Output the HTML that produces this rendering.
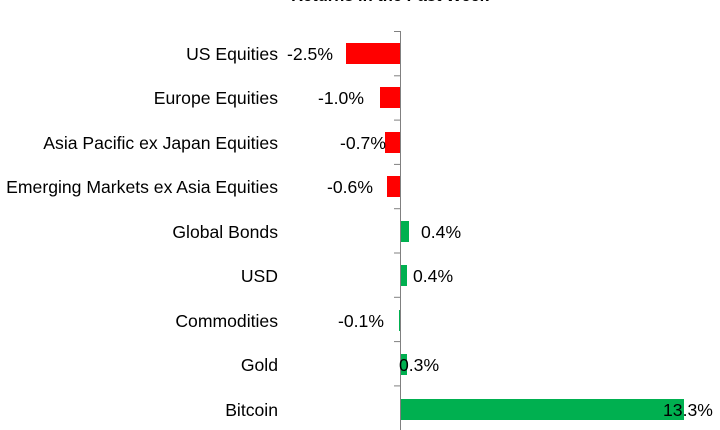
<!DOCTYPE html>
<html><head><meta charset="utf-8"><style>
html,body{margin:0;padding:0;background:#fff;width:720px;height:430px;overflow:hidden}
svg{display:block;font-family:"Liberation Sans",Arial,sans-serif}
</style></head><body>
<svg width="720" height="430" viewBox="0 0 720 430">
<text x="390" y="1" font-size="16.5" font-weight="bold" text-anchor="middle">Returns in the Past Week</text>
<g fill="#ff0000">
<rect x="346" y="43" width="54" height="21"/>
<rect x="380" y="87" width="20" height="21"/>
<rect x="385" y="132" width="15" height="21"/>
<rect x="387" y="176" width="13" height="21"/>
</g>
<g fill="#00b050">
<rect x="400" y="221" width="9" height="21"/>
<rect x="400" y="265" width="7" height="21"/>
<rect x="399" y="310" width="1" height="21"/>
<rect x="400" y="354" width="7" height="21"/>
<rect x="400" y="399" width="284" height="21"/>
</g>
<g stroke="#808080" stroke-width="1">
<line x1="400.5" y1="31" x2="400.5" y2="430"/>
<line x1="394" y1="31.5" x2="400" y2="31.5"/>
<line x1="394" y1="75.8" x2="400" y2="75.8"/>
<line x1="394" y1="120.1" x2="400" y2="120.1"/>
<line x1="394" y1="164.4" x2="400" y2="164.4"/>
<line x1="394" y1="208.7" x2="400" y2="208.7"/>
<line x1="394" y1="253" x2="400" y2="253"/>
<line x1="394" y1="297.3" x2="400" y2="297.3"/>
<line x1="394" y1="341.6" x2="400" y2="341.6"/>
<line x1="394" y1="385.9" x2="400" y2="385.9"/>
</g>
<g font-size="17.6" text-anchor="end" fill="#000">
<text x="278" y="60">US Equities</text>
<text x="278" y="104">Europe Equities</text>
<text x="278" y="149">Asia Pacific ex Japan Equities</text>
<text x="278" y="193">Emerging Markets ex Asia Equities</text>
<text x="278" y="238">Global Bonds</text>
<text x="278" y="282">USD</text>
<text x="278" y="327">Commodities</text>
<text x="278" y="371">Gold</text>
<text x="278" y="416">Bitcoin</text>
</g>
<g font-size="17.6" fill="#000">
<text x="287" y="60">-2.5%</text>
<text x="318" y="104">-1.0%</text>
<text x="340" y="149">-0.7%</text>
<text x="327" y="193">-0.6%</text>
<text x="421" y="238">0.4%</text>
<text x="413" y="282">0.4%</text>
<text x="338" y="327">-0.1%</text>
<text x="399" y="371">0.3%</text>
<text x="663" y="416">13.3%</text>
</g>
</svg>
</body></html>
